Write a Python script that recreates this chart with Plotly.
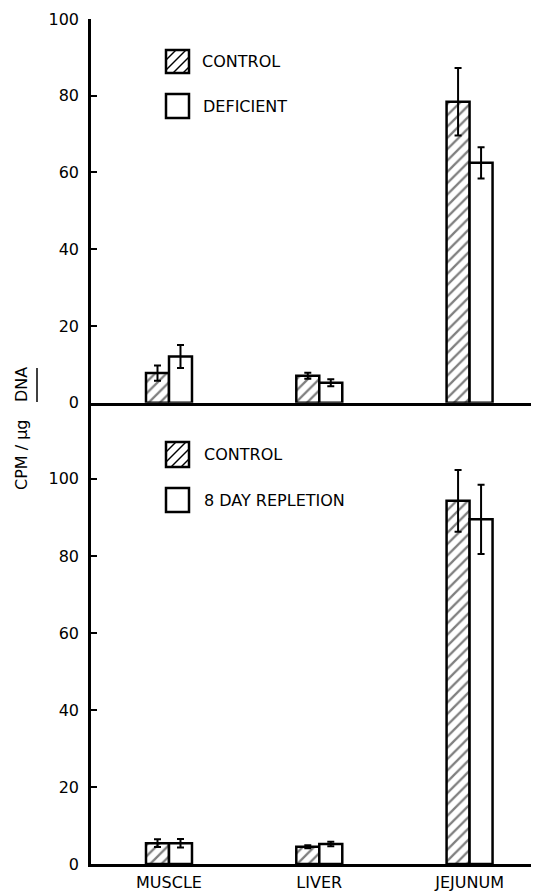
import plotly.graph_objects as go

# ---------------- data ----------------
organs = ["MUSCLE", "LIVER", "JEJUNUM"]

top_control = [7.7, 7.0, 78.4]
top_control_err = [2.0, 0.8, 8.8]
top_deficient = [12.0, 5.2, 62.5]
top_deficient_err = [3.0, 0.9, 4.1]

bot_control = [5.4, 4.5, 94.3]
bot_control_err = [1.0, 0.4, 8.0]
bot_repletion = [5.4, 5.2, 89.5]
bot_repletion_err = [1.1, 0.6, 9.0]

y_ticks = [0, 20, 40, 60, 80, 100]
top_names = ["CONTROL", "DEFICIENT"]
bot_names = ["CONTROL", "8 DAY REPLETION"]

# ---------------- layout geometry ----------------
# page body has an 8px margin, so the figure starts at (8, 8) in the window
OFF = 8
W, H = 539 - OFF, 891 - OFF
ML, MR, MT, MB = 91 - OFF, 0, 19 - OFF, 27
PW, PH = W - ML - MR, H - MT - MB
SPLIT = 0.546  # top panel bottom, fraction of plot height

FONT = "DejaVu Sans"
BLACK = "black"


def px(x):
    # x in window pixels -> paper
    return (x - OFF - ML) / PW


def py(y):
    # y in window pixels -> paper
    return (H - MB - (y - OFF)) / PH


hatch = dict(shape="/", fgcolor=BLACK, bgcolor="white", size=8, solidity=0.28)


def bar(x, y, err, xa, ya, hatched):
    return go.Bar(
        x=x, y=y, xaxis=xa, yaxis=ya,
        marker=dict(color="white",
                    line=dict(color=BLACK, width=2.5),
                    pattern=hatch if hatched else dict(shape="")),
        error_y=dict(type="data", array=err, color=BLACK, thickness=2, width=3.5),
        showlegend=False,
    )


fig = go.Figure()
fig.add_trace(bar(organs, top_control, top_control_err, "x", "y", True))
fig.add_trace(bar(organs, top_deficient, top_deficient_err, "x", "y", False))
fig.add_trace(bar(organs, bot_control, bot_control_err, "x2", "y2", True))
fig.add_trace(bar(organs, bot_repletion, bot_repletion_err, "x2", "y2", False))

xrange = [-0.519, 2.462]
yaxis_common = dict(
    showline=True, linewidth=2.5, linecolor=BLACK, mirror=False,
    ticks="inside", ticklen=6, tickwidth=1.5, tickcolor=BLACK,
    tickvals=y_ticks, tickfont=dict(family=FONT, size=16, color=BLACK),
    showgrid=False, zeroline=False, ticklabelstandoff=6,
)

fig.update_layout(
    width=W, height=H,
    margin=dict(l=ML, r=MR, t=MT, b=MB),
    paper_bgcolor="white", plot_bgcolor="white",
    barmode="group", bargap=0.694, bargroupgap=0,
    showlegend=False,
    xaxis=dict(anchor="y", domain=[0, 1], range=xrange, type="category",
               showline=True, linewidth=2.5, linecolor=BLACK,
               showticklabels=False, ticks="", showgrid=False, zeroline=False),
    yaxis=dict(domain=[SPLIT, 1], range=[0, 100], anchor="x", **yaxis_common),
    xaxis2=dict(anchor="y2", domain=[0, 1], range=xrange, type="category",
                showline=True, linewidth=2.5, linecolor=BLACK, ticks="",
                tickfont=dict(family=FONT, size=16, color=BLACK),
                ticklabelstandoff=2, showgrid=False, zeroline=False),
    yaxis2=dict(domain=[0, SPLIT], range=[0, 119.8], anchor="x2", **yaxis_common),
)

# ---------------- legend keys (drawn) ----------------
shapes = []
annotations = []


def legend_key(x0, y0, x1, y1, hatched):
    shapes.append(dict(type="rect", xref="paper", yref="paper",
                       x0=px(x0), x1=px(x1), y0=py(y1), y1=py(y0),
                       line=dict(color=BLACK, width=2.5), fillcolor="white", layer="above"))
    if hatched:
        step = 10
        c = x0 + y0 + step
        while c < x1 + y1 - 2:
            # line x + y = c clipped to box (pixel coords, y down)
            xa = max(x0, c - y1)
            ya = c - xa
            xb = min(x1, c - y0)
            yb = c - xb
            shapes.append(dict(type="line", xref="paper", yref="paper",
                               x0=px(xa), y0=py(ya), x1=px(xb), y1=py(yb),
                               line=dict(color=BLACK, width=1.5), layer="above"))
            c += step


def legend_text(x, y, text):
    annotations.append(dict(xref="paper", yref="paper", x=px(x), y=py(y),
                            xanchor="left", yanchor="middle", showarrow=False,
                            text=text, font=dict(family=FONT, size=16, color=BLACK)))


legend_key(166, 50, 189, 73, True)
legend_text(200, 61, top_names[0])
legend_key(166, 94, 189, 118, False)
legend_text(201, 107, top_names[1])

legend_key(166, 442, 189, 467, True)
legend_text(202, 455, bot_names[0])
legend_key(166, 488, 189, 512, False)
legend_text(202, 500, bot_names[1])

# ---------------- y axis label ----------------
annotations.append(dict(xref="paper", yref="paper", x=px(22), y=py(455),
                        xanchor="center", yanchor="middle", showarrow=False,
                        textangle=-90, text="CPM / μg",
                        font=dict(family=FONT, size=16, color=BLACK)))
annotations.append(dict(xref="paper", yref="paper", x=px(22), y=py(385),
                        xanchor="center", yanchor="middle", showarrow=False,
                        textangle=-90, text="DNA",
                        font=dict(family=FONT, size=16, color=BLACK)))
shapes.append(dict(type="line", xref="paper", yref="paper",
                   x0=px(37), x1=px(37), y0=py(368), y1=py(402),
                   line=dict(color=BLACK, width=1.5)))

fig.update_layout(shapes=shapes, annotations=annotations)

fig.write_html("out.html")
